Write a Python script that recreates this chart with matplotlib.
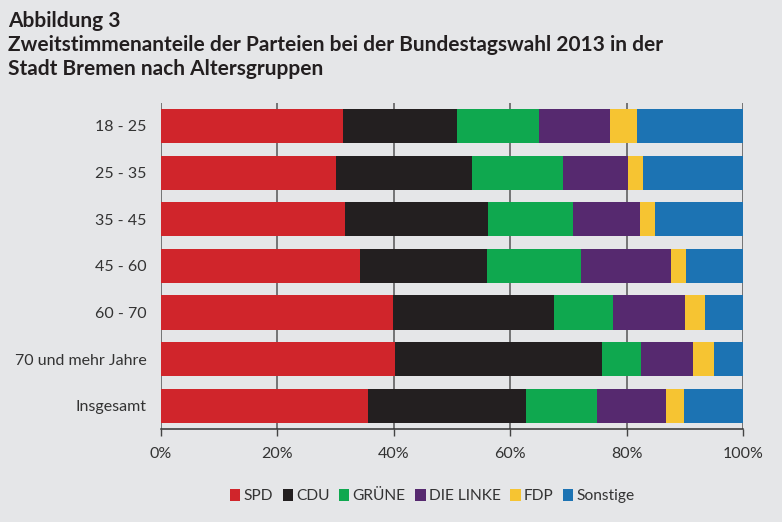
import matplotlib
matplotlib.use("Agg")
import matplotlib.pyplot as plt
from matplotlib.patches import Patch

plt.rcParams['font.family'] = ['Lato', 'DejaVu Sans']

categories = ["18 - 25", "25 - 35", "35 - 45", "45 - 60", "60 - 70", "70 und mehr Jahre", "Insgesamt"]
parties = ["SPD", "CDU", "GRÜNE", "DIE LINKE", "FDP", "Sonstige"]
spd      = [31.3, 30.1, 31.6, 34.2, 39.9, 40.2, 35.6]
cdu      = [19.6, 23.3, 24.6, 21.8, 27.6, 35.6, 27.1]
gruene   = [14.0, 15.7, 14.6, 16.1, 10.1, 6.7, 12.2]
linke    = [12.2, 11.1, 11.5, 15.5, 12.4, 8.9, 11.8]
fdp      = [4.7, 2.6, 2.6, 2.6, 3.4, 3.6, 3.1]
sonstige = [18.2, 17.2, 15.1, 9.8, 6.6, 5.0, 10.2]
xticks = [0, 20, 40, 60, 80, 100]

series = [spd, cdu, gruene, linke, fdp, sonstige]
colors = ["#d0252b", "#231f20", "#0fa84f", "#56296f", "#f6c432", "#1c73b3"]
bg = "#e5e6e8"

fig = plt.figure(figsize=(7.82, 5.22), dpi=100, facecolor=bg)
ax = fig.add_axes([0.2055, 0.178, 0.7449, 0.6253])
ax.set_facecolor(bg)

y = list(range(len(categories)))
left = [0.0] * len(categories)
for vals, c, name in zip(series, colors, parties):
    ax.barh(y, vals, left=left, color=c, height=0.73, label=name, zorder=3)
    left = [a + b for a, b in zip(left, vals)]

ax.set_xlim(0, 100)
ax.set_ylim(6.5, -0.5)
ax.set_yticks(y)
ax.set_yticklabels(categories, fontsize=11.5, color="#333333")
ax.set_xticks(xticks)
ax.set_xticklabels([f"{t}%" for t in xticks], fontsize=11.5, color="#333333")
ax.tick_params(axis='y', length=0, pad=10)
ax.tick_params(axis='x', length=5, width=1, color="#444444", pad=8, direction='out')
ax.grid(axis='x', color="#555555", linewidth=1.1, zorder=1)
for s in ['top', 'right', 'left']:
    ax.spines[s].set_visible(False)
ax.spines['bottom'].set_color("#333333")
ax.spines['bottom'].set_linewidth(1.1)

fig.text(0.010, 0.978, "Abbildung 3\nZweitstimmenanteile der Parteien bei der Bundestagswahl 2013 in der\nStadt Bremen nach Altersgruppen",
         fontsize=15, fontweight='bold', color="#231f20", va='top', ha='left', linespacing=1.22)

handles = [Patch(facecolor=c, label=n) for c, n in zip(colors, parties)]
fig.legend(handles=handles, loc='center', bbox_to_anchor=(0.553, 0.05), ncol=6, frameon=False,
           fontsize=11.2, handlelength=0.65, handleheight=0.8, handletextpad=0.22, columnspacing=0.62,
           labelcolor="#333333")

fig.savefig("out.png", dpi=100, facecolor=bg)
